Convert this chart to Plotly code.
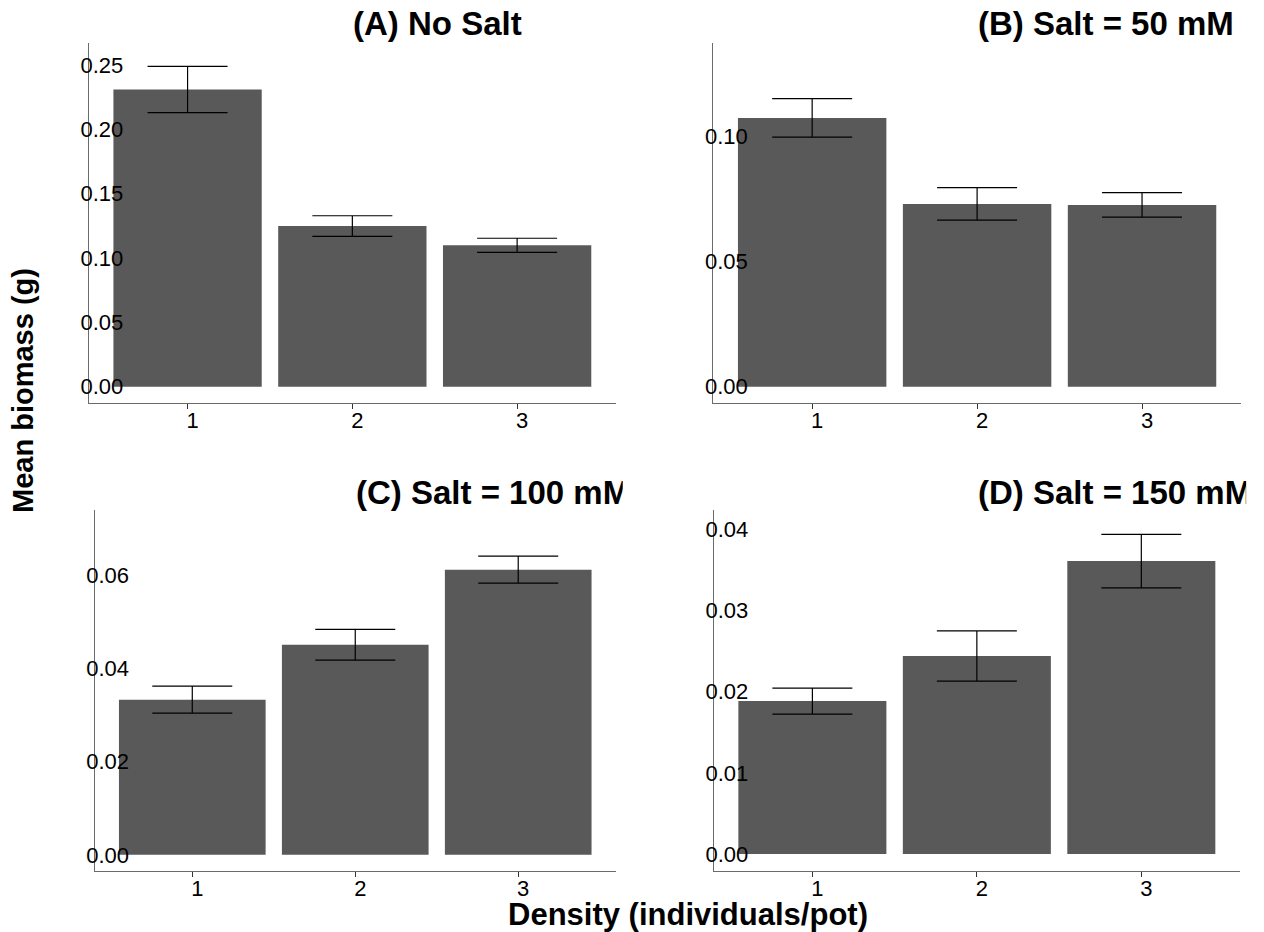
import plotly.graph_objects as go

density = [1, 2, 3]
density_labels = ["1", "2", "3"]

panel_titles = ["(A) No Salt", "(B) Salt = 50 mM", "(C) Salt = 100 mM", "(D) Salt = 150 mM"]

mean_a = [0.231, 0.1249, 0.1099]
se_a = [0.018, 0.008, 0.0055]
mean_b = [0.1075, 0.0731, 0.0727]
se_b = [0.0077, 0.0065, 0.0049]
mean_c = [0.0333, 0.0451, 0.0612]
se_c = [0.0029, 0.0033, 0.0029]
mean_d = [0.01885, 0.0244, 0.0361]
se_d = [0.0016, 0.0031, 0.0033]

yticks_a = [0.00, 0.05, 0.10, 0.15, 0.20, 0.25]
yticks_b = [0.00, 0.05, 0.10]
yticks_c = [0.00, 0.02, 0.04, 0.06]
yticks_d = [0.00, 0.01, 0.02, 0.03, 0.04]

yrange_a = [-0.0124, 0.2674]
yrange_b = [-0.0064, 0.1376]
yrange_c = [-0.0034, 0.074]
yrange_d = [-0.00206, 0.0424]

W, H = 1264, 932
BAR = "#595959"
AXIS = "#6b6b6b"

panels = [
    (mean_a, se_a, yticks_a, yrange_a, (88.7, 616), (42.7, 402.7)),
    (mean_b, se_b, yticks_b, yrange_b, (713.2, 1241), (42.7, 402.7)),
    (mean_c, se_c, yticks_c, yrange_c, (94.5, 616), (510, 870.7)),
    (mean_d, se_d, yticks_d, yrange_d, (713.7, 1240), (510, 870.7)),
]

fig = go.Figure()
layout = dict(
    width=W, height=H,
    margin=dict(l=0, r=0, t=0, b=0),
    paper_bgcolor="white", plot_bgcolor="white",
    showlegend=False,
    font=dict(family="Liberation Sans, Arial, sans-serif", color="black"),
)
annotations = []
for i, (m, se, yt, yr, (x0, x1), (ytop, ybot)) in enumerate(panels):
    n = i + 1
    xa = "x" if n == 1 else f"x{n}"
    ya = "y" if n == 1 else f"y{n}"
    fig.add_trace(go.Bar(
        x=density, y=m, width=0.9,
        marker=dict(color=BAR, line=dict(width=0)),
        error_y=dict(type="data", array=se, visible=True, color="black", thickness=1.2, width=40),
        xaxis=xa, yaxis=ya, hoverinfo="skip",
    ))
    layout["xaxis" if n == 1 else f"xaxis{n}"] = dict(
        domain=[x0 / W, x1 / W], anchor=ya, range=[0.4, 3.6],
        tickmode="array", tickvals=density, ticktext=density_labels,
        showline=True, linecolor=AXIS, linewidth=1.2,
        ticks="outside", ticklen=5, tickcolor="#333333", tickwidth=1,
        tickfont=dict(size=22, color="black"), ticklabelshift=5, ticklabelstandoff=-7,
        showgrid=False, zeroline=False, fixedrange=True,
    )
    layout["yaxis" if n == 1 else f"yaxis{n}"] = dict(
        domain=[1 - ybot / H, 1 - ytop / H], anchor=xa, range=yr,
        tickmode="array", tickvals=yt, ticktext=[f"{v:.2f}" for v in yt],
        showline=True, linecolor=AXIS, linewidth=1.2,
        ticks="", ticklabelposition="inside", ticklabelstandoff=-7,
        tickfont=dict(size=22, color="black"),
        showgrid=False, zeroline=False, fixedrange=True,
    )
    cx = (x0 + x1) / 2
    ty = 24 if n <= 2 else 492.5
    clip_right = 622 if n in (1, 3) else 1245
    annotations.append(dict(
        text=f"<b>{panel_titles[i]}</b>", xref="paper", yref="paper",
        x=cx / W, y=1 - ty / H, xanchor="left", yanchor="middle",
        showarrow=False, align="left", width=clip_right - cx, borderpad=0,
        font=dict(size=33, color="black"),
    ))

annotations.append(dict(
    text="<b>Density (individuals/pot)</b>", xref="paper", yref="paper",
    x=688 / W, y=1 - 914 / H, xanchor="center", yanchor="middle",
    showarrow=False, borderpad=0, font=dict(size=31, color="black"),
))
annotations.append(dict(
    text="<b>Mean biomass (g)</b>", xref="paper", yref="paper",
    x=23 / W, y=1 - 391 / H, xanchor="center", yanchor="middle",
    showarrow=False, textangle=-90, font=dict(size=29, color="black"),
))
layout["annotations"] = annotations
fig.update_layout(**layout)
fig.write_html("out.html")
